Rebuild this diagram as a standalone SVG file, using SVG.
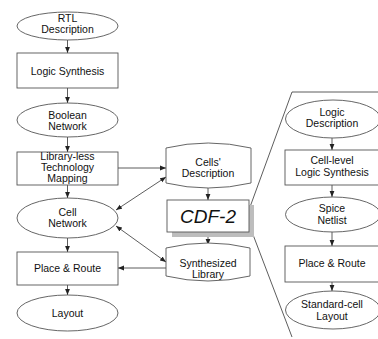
<svg xmlns="http://www.w3.org/2000/svg" width="378" height="339" viewBox="0 0 378 339">
<defs>
<marker id="ah" viewBox="0 0 10 10" refX="10" refY="5" markerWidth="6" markerHeight="6" orient="auto-start-reverse" markerUnits="userSpaceOnUse">
<path d="M0,1 L10,5 L0,9 z" fill="#222"/>
</marker>
<style>
.n{fill:#fff;stroke:#555;stroke-width:0.9}
.t{font-family:"Liberation Sans",Arial,sans-serif;font-size:10.5px;fill:#111;text-anchor:middle}
.c{fill:none;stroke:#333;stroke-width:0.8}
.a{marker-end:url(#ah)}
.b{marker-start:url(#ah);marker-end:url(#ah)}
</style>
</defs>
<rect width="378" height="339" fill="#fff"/>
<g id="connectors">
<line class="c a" x1="67.5" y1="40" x2="67.5" y2="53"/>
<line class="c a" x1="67.5" y1="88" x2="67.5" y2="103"/>
<line class="c a" x1="67.5" y1="137" x2="67.5" y2="152"/>
<line class="c a" x1="67.5" y1="185" x2="67.5" y2="198"/>
<line class="c a" x1="67.5" y1="238" x2="67.5" y2="252"/>
<line class="c a" x1="67.5" y1="285" x2="67.5" y2="295"/>
<line class="c a" x1="118" y1="168" x2="166" y2="168"/>
<line class="c b" x1="116" y1="210" x2="166" y2="177"/>
<line class="c b" x1="116" y1="226" x2="166" y2="262"/>
<line class="c a" x1="166" y1="268" x2="118" y2="268"/>
<line class="c a" x1="208" y1="186" x2="208" y2="200"/>
<line class="c a" x1="208" y1="232" x2="208" y2="245"/>
<polyline class="c" points="250,207 292,92 378,92"/>
<line class="c" x1="252" y1="232" x2="292" y2="337"/>
<line class="c a" x1="332" y1="138" x2="332" y2="150"/>
<line class="c a" x1="332" y1="185" x2="332" y2="197"/>
<line class="c a" x1="332" y1="232" x2="332" y2="246"/>
<line class="c a" x1="332" y1="282" x2="332" y2="291"/>
</g>
<g id="rtl"><ellipse class="n" cx="67.5" cy="26" rx="50.5" ry="14"/><text class="t" x="67.5" y="22">RTL</text><text class="t" x="67.5" y="33">Description</text></g>
<g id="logicsyn"><rect class="n" x="17" y="53" width="101" height="35"/><text class="t" x="67.5" y="75">Logic Synthesis</text></g>
<g id="boolean"><ellipse class="n" cx="67.5" cy="120" rx="50.5" ry="17"/><text class="t" x="67.5" y="119">Boolean</text><text class="t" x="67.5" y="130">Network</text></g>
<g id="techmap"><rect class="n" x="17" y="152" width="101" height="33"/><text class="t" x="67.5" y="160">Library-less</text><text class="t" x="67.5" y="171">Technology</text><text class="t" x="67.5" y="182">Mapping</text></g>
<g id="cellnet"><ellipse class="n" cx="67.5" cy="218" rx="50.5" ry="20"/><text class="t" x="67.5" y="216">Cell</text><text class="t" x="67.5" y="227">Network</text></g>
<g id="pr"><rect class="n" x="17" y="252" width="101" height="33"/><text class="t" x="67.5" y="272">Place &amp; Route</text></g>
<g id="layout"><ellipse class="n" cx="67.5" cy="313" rx="50.5" ry="18"/><text class="t" x="67.5" y="317">Layout</text></g>
<g id="cellsdesc"><path class="n" d="M166,148 Q208,138 251,148 L251,183 Q208,193 166,183 Z"/><text class="t" x="208" y="166">Cells'</text><text class="t" x="208" y="177">Description</text></g>
<g id="cdf2"><rect x="172" y="205" width="82" height="32" fill="#bdbdbd"/><rect class="n" x="167" y="200" width="82" height="32"/><text x="208" y="223" style="font-family:'Liberation Sans',Arial,sans-serif;font-size:19px;font-style:italic;text-anchor:middle;fill:#111">CDF-2</text></g>
<g id="synlib"><path class="n" d="M166,248 Q208,238 250,248 L250,276 Q208,286 166,276 Z"/><text class="t" x="208" y="267">Synthesized</text><text class="t" x="208" y="278">Library</text></g>
<g id="logicdesc"><ellipse class="n" cx="333" cy="119" rx="47.5" ry="19"/><text class="t" x="332" y="116">Logic</text><text class="t" x="332" y="127">Description</text></g>
<g id="celllevel"><rect class="n" x="285" y="150" width="94" height="35"/><text class="t" x="332" y="164">Cell-level</text><text class="t" x="332" y="176">Logic Synthesis</text></g>
<g id="spice"><ellipse class="n" cx="333" cy="214.5" rx="47.5" ry="17.5"/><text class="t" x="332" y="212">Spice</text><text class="t" x="332" y="224">Netlist</text></g>
<g id="pr2"><rect class="n" x="285" y="246" width="94" height="36"/><text class="t" x="332" y="267">Place &amp; Route</text></g>
<g id="stdcell"><ellipse class="n" cx="333" cy="310" rx="47.5" ry="19"/><text class="t" x="332" y="308">Standard-cell</text><text class="t" x="332" y="320">Layout</text></g>
</svg>
